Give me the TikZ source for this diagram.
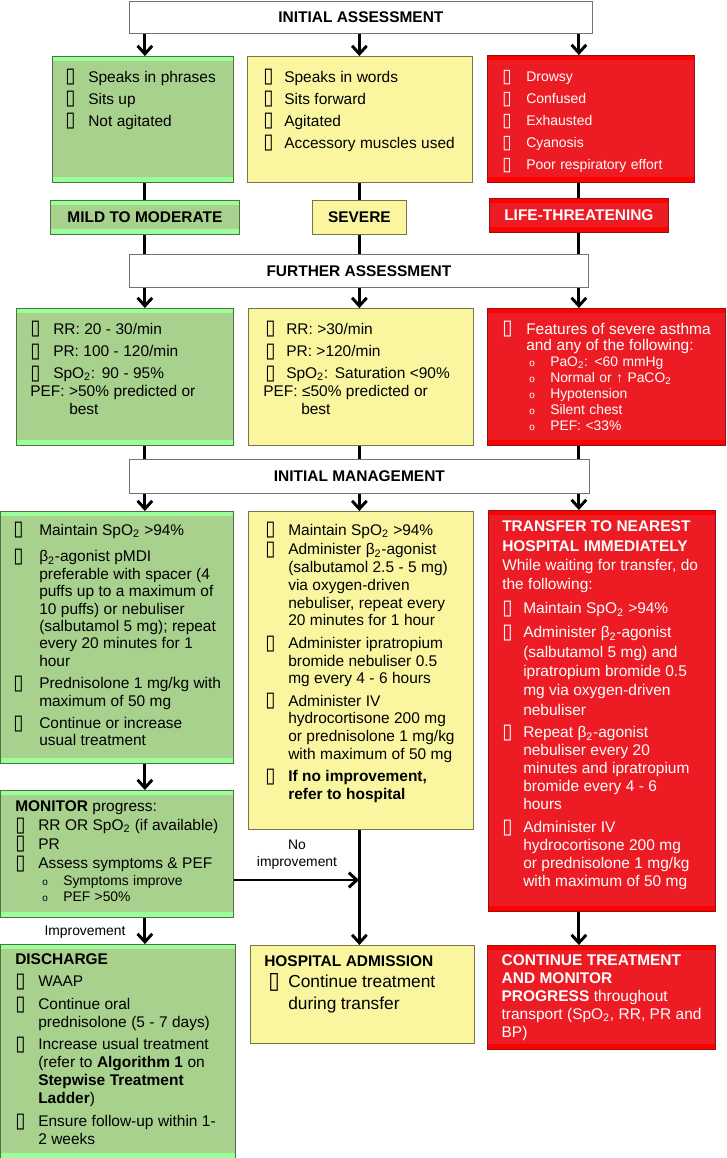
\documentclass[tikz,border=0pt]{standalone}
\usepackage{fontspec}
\usepackage{graphicx}
\setmainfont{Liberation Sans}
\newfontfamily\bxfont{DejaVu Sans}
\usetikzlibrary{arrows.meta}
\definecolor{gfill}{RGB}{169,209,142}
\definecolor{gstrip}{RGB}{153,255,153}
\definecolor{gborder}{RGB}{84,110,70}
\definecolor{yfill}{RGB}{250,246,160}
\definecolor{yborder}{RGB}{120,118,70}
\definecolor{rfill}{RGB}{237,28,36}
\definecolor{rstrip}{RGB}{255,0,0}
\definecolor{rborder}{RGB}{140,20,20}
\newlength\bi
\newcommand\bx{\smash{\raisebox{-0.6pt}{\scalebox{1.2}[1.35]{\bxfont ▯}}}}
\newcommand\fs[3]{\fontsize{#1}{#2}\selectfont\setlength\parskip{#3}}
\newcommand\fitem[1]{\hangindent=\bi\hangafter=1 \makebox[\bi][l]{\bx}#1}
\newcommand\bitem[1]{\par\hangindent=\bi\hangafter=1 \noindent\makebox[\bi][l]{\bx}#1}
\newcommand\subo{{\fontsize{7.5pt}{7.5pt}\selectfont o}}
\newcommand\sitem[1]{\par\noindent\hspace*{20.25pt}\makebox[15.75pt][l]{\subo}#1}
\newcommand\mkbox[7]{\node[#2, minimum width={(#5-#3)*0.75pt}, minimum height={(#6-#4)*0.75pt}] (#1) at (#3,#4) {#7};}
\tikzset{
  lnk/.style={line width=2.2pt},
  arr/.style={line width=2.2pt, -{Straight Barb[length=6pt,width=11pt]}},
  boxbase/.style={anchor=north west, inner sep=0pt, line width=0.6pt, align=center,
    font=\bfseries\fontsize{11.6pt}{14pt}\selectfont},
  strips/.style={path picture={
    \fill[#1] (path picture bounding box.north west) rectangle ([yshift=-3.75pt]path picture bounding box.north east);
    \fill[#1] ([yshift=3.75pt]path picture bounding box.south west) rectangle (path picture bounding box.south east);}},
  gbox/.style={boxbase, draw=gborder, fill=gfill, strips=gstrip},
  ybox/.style={boxbase, draw=yborder, fill=yfill},
  rbox/.style={boxbase, draw=rborder, fill=rfill, text=white, strips=rstrip},
  wbox/.style={boxbase, draw=black!55, fill=white},
  txt/.style={anchor=base west, inner sep=0pt, text width=250pt, align=left},
  lbl/.style={font=\fontsize{10.4pt}{12.8pt}\selectfont, align=center, inner sep=0pt},
}
\begin{document}
\begin{tikzpicture}[x=0.75pt,y=-0.75pt]
\path[use as bounding box, fill=white] (0,0) rectangle (726,1158);
% boxes
\mkbox{ia}{wbox}{129}{1}{592}{33}{INITIAL ASSESSMENT}
\mkbox{g1}{gbox}{52}{56}{233}{182}{}
\mkbox{y1}{ybox}{247}{56}{472}{182}{}
\mkbox{r1}{rbox}{487}{55}{694}{182}{}
\mkbox{mild}{gbox}{50}{200}{239}{234}{MILD TO MODERATE}
\mkbox{sev}{ybox}{312}{200}{406}{234}{SEVERE}
\mkbox{life}{rbox}{489}{198}{668}{232}{LIFE-THREATENING}
\mkbox{fa}{wbox}{129}{254}{588}{287}{FURTHER ASSESSMENT}
\mkbox{g2}{gbox}{16}{308}{233}{445}{}
\mkbox{y2}{ybox}{248}{308}{473}{445}{}
\mkbox{r2}{rbox}{487}{308}{725}{445}{}
\mkbox{im}{wbox}{129}{459}{589}{493}{INITIAL MANAGEMENT}
\mkbox{g3}{gbox}{0}{511}{233}{763}{}
\mkbox{y3}{ybox}{248}{511}{473}{829}{}
\mkbox{r3}{rbox}{488}{510}{715}{911}{}
\mkbox{mon}{gbox}{0}{790}{233}{917}{}
\mkbox{dis}{gbox}{0}{944}{235}{1158}{}
\mkbox{hosp}{ybox}{250}{945}{474}{1043}{}
\mkbox{cont}{rbox}{487}{945}{715}{1049}{}
% texts
\node[txt] (g1t) at (65,82) {\fs{11.6pt}{13.1pt}{3.4pt}\setlength\bi{17.25pt}%
\fitem{Speaks in phrases}\bitem{Sits up}\bitem{Not agitated}\par};
\node[txt] (y1t) at (263,82) {\fs{11.6pt}{13.1pt}{3.4pt}\setlength\bi{15.75pt}%
\fitem{Speaks in words}\bitem{Sits forward}\bitem{Agitated}\bitem{Accessory muscles used}\par};
\node[txt, text=white] (r1t) at (502,81.7) {\fs{10.5pt}{13.1pt}{3.4pt}\setlength\bi{18pt}%
\fitem{Drowsy}\bitem{Confused}\bitem{Exhausted}\bitem{Cyanosis}\bitem{Poor respiratory effort}\par};
\node[txt] (g2t) at (30,334) {\fs{11.6pt}{13.3pt}{3.4pt}\setlength\bi{17.25pt}%
\fitem{RR: 20 - 30/min}\bitem{PR: 100 - 120/min}\bitem{SpO\textsubscript{2}: 90 - 95\%}\par
{\setlength\parskip{0pt}\hangindent=29.25pt\hangafter=1 \noindent PEF: >50\% predicted or\newline best\par}};
\node[txt] (y2t) at (265,334) {\fs{11.6pt}{13.3pt}{3.4pt}\setlength\bi{15.75pt}%
\fitem{RR: >30/min}\bitem{PR: >120/min}\bitem{SpO\textsubscript{2}: Saturation <90\%}\par
{\setlength\parskip{0pt}\hangindent=27pt\hangafter=1 \noindent\hspace*{-1.5pt}PEF: ≤50\% predicted or\newline best\par}};
\node[txt, text=white] (r2t) at (502,334) {\fs{11.6pt}{13.5pt}{0pt}\setlength\bi{18pt}%
\fitem{Features of severe asthma\newline and any of the following:}%
{\fs{10.4pt}{12pt}{0pt}\sitem{PaO\textsubscript{2}: <60 mmHg}\sitem{Normal or ↑ PaCO\textsubscript{2}}\sitem{Hypotension}\sitem{Silent chest}\sitem{PEF: <33\%}\par}};
\node[txt] (g3t) at (13,535) {\fs{11.6pt}{13.05pt}{3.75pt}\setlength\bi{19.5pt}%
\fitem{Maintain SpO\textsubscript{2} >94\%}\par\vspace{3.3pt}%
\bitem{β\textsubscript{2}-agonist pMDI\newline preferable with spacer (4\newline puffs up to a maximum of\newline 10 puffs) or nebuliser\newline (salbutamol 5 mg); repeat\newline every 20 minutes for 1\newline hour}%
\bitem{Prednisolone 1 mg/kg with\newline maximum of 50 mg}%
\bitem{Continue or increase\newline usual treatment}\par};
\node[txt] (y3t) at (265,535) {\fs{11.6pt}{13.35pt}{3.4pt}\setlength\bi{17.25pt}%
\fitem{Maintain SpO\textsubscript{2} >94\%}\par\vspace{-2pt}%
\bitem{Administer β\textsubscript{2}-agonist\newline (salbutamol 2.5 - 5 mg)\newline via oxygen-driven\newline nebuliser, repeat every\newline 20 minutes for 1 hour}%
\bitem{Administer ipratropium\newline bromide nebuliser 0.5\newline mg every 4 - 6 hours}%
\bitem{Administer IV\newline hydrocortisone 200 mg\newline or prednisolone 1 mg/kg\newline with maximum of 50 mg}%
\bitem{\textbf{If no improvement,\newline refer to hospital}}\par};
\node[txt, text=white] (r3t) at (502,531.7) {\fs{11.6pt}{13.3pt}{0pt}%
\textbf{TRANSFER TO NEAREST\newline HOSPITAL IMMEDIATELY}\newline While waiting for transfer, do\newline the following:%
{\fs{11.6pt}{14.55pt}{3.4pt}\setlength\bi{15.75pt}%
\bitem{Maintain SpO\textsubscript{2} >94\%}%
\bitem{Administer β\textsubscript{2}-agonist\newline (salbutamol 5 mg) and\newline ipratropium bromide 0.5\newline mg via oxygen-driven\newline nebuliser}%
\bitem{Repeat β\textsubscript{2}-agonist\newline nebuliser every 20\newline minutes and ipratropium\newline bromide every 4 - 6\newline hours}%
{\fontsize{11.6pt}{13.5pt}\selectfont\bitem{Administer IV\newline hydrocortisone 200 mg\newline or prednisolone 1 mg/kg\newline with maximum of 50 mg}\par}}\par};
\node[txt] (mont) at (15,811.7) {\fs{11.6pt}{14pt}{0pt}\setlength\bi{17.25pt}%
\textbf{MONITOR} progress:\bitem{RR OR SpO\textsubscript{2} (if available)}\bitem{PR}\par\vspace{2.5pt}%
\bitem{Assess symptoms \& PEF}%
{\fs{10.4pt}{12.4pt}{0pt}\sitem{Symptoms improve}\sitem{PEF >50\%}\par}};
\node[txt] (dist) at (15,964.3) {\fs{11.6pt}{13.5pt}{3.4pt}\setlength\bi{17.25pt}%
\textbf{DISCHARGE}\bitem{WAAP}\bitem{Continue oral\newline prednisolone (5 - 7 days)}%
\bitem{Increase usual treatment\newline (refer to \textbf{Algorithm 1} on\newline \textbf{Stepwise Treatment\newline Ladder})}%
\bitem{Ensure follow-up within 1-\newline 2 weeks}\par};
\node[txt] (hospt) at (264,966) {\fs{11.6pt}{13.5pt}{0pt}%
\textbf{HOSPITAL ADMISSION}%
{\fs{13pt}{16.3pt}{0pt}\par\hangindent=18pt\hangafter=1 \noindent\makebox[18pt][l]{\hspace*{3pt}\bx}Continue treatment\newline during transfer\par}};
\node[txt, text=white] (contt) at (501.4,965.3) {\fs{11.6pt}{13.5pt}{0pt}%
\textbf{CONTINUE TREATMENT\newline AND MONITOR\newline PROGRESS} throughout\newline transport (SpO\textsubscript{2}, RR, PR and\newline BP)\par};
% connectors
\draw[arr] (ia.south -| mild) -- (g1.north -| mild);
\draw[arr] (ia.south -| sev) -- (y1.north -| sev);
\draw[arr] (ia.south -| life) -- (r1.north -| life);
\draw[lnk] (g1.south -| mild) -- (mild.north);
\draw[lnk] (y1.south -| sev) -- (sev.north);
\draw[lnk] (r1.south -| life) -- (life.north);
\draw[lnk] (mild.south) -- (fa.north -| mild);
\draw[lnk] (sev.south) -- (fa.north -| sev);
\draw[lnk] (life.south) -- (fa.north -| life);
\draw[arr] (fa.south -| mild) -- (g2.north -| mild);
\draw[arr] (fa.south -| sev) -- (y2.north -| sev);
\draw[arr] (fa.south -| life) -- (r2.north -| life);
\draw[lnk] (g2.south -| mild) -- (im.north -| mild);
\draw[lnk] (y2.south -| sev) -- (im.north -| sev);
\draw[lnk] (r2.south -| life) -- (im.north -| life);
\draw[arr] (im.south -| mild) -- (g3.north -| mild);
\draw[arr] (im.south -| sev) -- (y3.north -| sev);
\draw[arr] (im.south -| life) -- (r3.north -| life);
\draw[arr] (g3.south -| mild) -- (mon.north -| mild);
\draw[arr] (mon.south -| mild) -- (dis.north -| mild);
\coordinate (j) at (359,880);
\draw[arr] (mon.east |- j) -- (j);
\draw[arr] (y3.south -| sev) -- (hosp.north -| sev);
\draw[arr] (r3.south -| life) -- (cont.north -| life);
% labels
\node[lbl] (noimp) at (297,855) {No\\improvement};
\node[lbl] (impl) at (85,932) {Improvement};
\end{tikzpicture}
\end{document}
